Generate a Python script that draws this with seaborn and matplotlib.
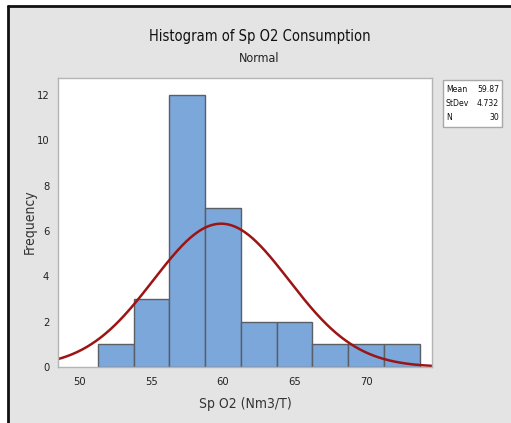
import numpy as np
import pandas as pd
import matplotlib
matplotlib.use("Agg")
import matplotlib.pyplot as plt
from matplotlib.patches import Rectangle
import seaborn as sns

# ---- data ----
bin_edges = [51.25, 53.75, 56.25, 58.75, 61.25, 63.75, 66.25, 68.75, 71.25, 73.75]
bin_counts = [1, 3, 12, 7, 2, 2, 1, 1, 1]
mean_val = 59.87
std_val = 4.732
n_val = 30
x_ticks = [50, 55, 60, 65, 70]
y_ticks = [0, 2, 4, 6, 8, 10, 12]
title = "Histogram of Sp O2 Consumption"
subtitle = "Normal"
x_label = "Sp O2 (Nm3/T)"
y_label = "Frequency"

sns.set_theme(style="white")
plt.rcParams['font.family'] = ['DejaVu Sans']
plt.rcParams['font.stretch'] = 'condensed'

W, H = 511, 423
fig = plt.figure(figsize=(W / 100, H / 100), dpi=100, facecolor="white")

def fx(px):
    return px / W

def fy(py):
    return 1 - py / H

# gray panel with black left/top border
fig.patches.append(Rectangle((fx(7.5), 0), 1, fy(6.5), transform=fig.transFigure,
                             facecolor="#e4e4e4", edgecolor="none", zorder=-5))
fig.lines.append(plt.Line2D([fx(7.5), fx(7.5)], [0, fy(6.5)], transform=fig.transFigure,
                            color="#111111", lw=2, zorder=-4))
fig.lines.append(plt.Line2D([fx(7.5), 1], [fy(6.5), fy(6.5)], transform=fig.transFigure,
                            color="#111111", lw=2, zorder=-4))

ax = fig.add_axes([fx(57.5), fy(367), fx(432) - fx(57.5), fy(78) - fy(367)])
ax.set_zorder(1)
ax.set_facecolor("white")

centers = [(bin_edges[i] + bin_edges[i + 1]) / 2 for i in range(len(bin_counts))]
df = pd.DataFrame({"x": centers, "w": bin_counts})
sns.histplot(data=df, x="x", weights="w", bins=bin_edges, ax=ax,
             color="#7ba7da", edgecolor="#5a5f66", linewidth=1.0, alpha=1.0)

xlim = (48.44, 74.6)
xs = np.linspace(xlim[0], xlim[1], 400)
binw = bin_edges[1] - bin_edges[0]
ys = n_val * binw * np.exp(-0.5 * ((xs - mean_val) / std_val) ** 2) / (std_val * np.sqrt(2 * np.pi))
sns.lineplot(x=xs, y=ys, ax=ax, color="#9c1414", lw=1.8)

ax.set_xlim(*xlim)
ax.set_ylim(0, 12.75)
ax.set_xticks(x_ticks)
ax.set_yticks(y_ticks)
ax.tick_params(axis="both", direction="out", length=3, width=0.8, color="#a0a0a0",
               labelsize=8, labelcolor="#222222", pad=3)
ax.tick_params(axis="x", pad=4)
for s in ax.spines.values():
    s.set_color("#b4b4b4")
    s.set_linewidth(1.0)
ax.set_xlabel("")
ax.set_ylabel("")

fig.text(fx(245), fy(404), x_label, ha="center", va="center", fontsize=10, color="#333333")
fig.text(fx(30), fy(222), y_label, ha="center", va="center", rotation=90, fontsize=10, color="#333333")
fig.text(fx(260), fy(37), title, ha="center", va="center", fontsize=10.5, color="#111111")
fig.text(fx(259), fy(58), subtitle, ha="center", va="center", fontsize=9, color="#222222")

# stats box
fig.patches.append(Rectangle((fx(443), fy(127)), fx(502) - fx(443), fy(80) - fy(127),
                             transform=fig.transFigure, facecolor="white",
                             edgecolor="#a8a8a8", lw=1.0, zorder=2))
rows = [("Mean", f"{mean_val:.2f}"), ("StDev", f"{std_val:.3f}"), ("N", f"{n_val}")]
for i, (k, v) in enumerate(rows):
    yy = fy(89 + i * 14.5)
    fig.text(fx(446), yy, k, ha="left", va="center", fontsize=6.2, color="#111111", zorder=3)
    fig.text(fx(499), yy, v, ha="right", va="center", fontsize=6.2, color="#111111", zorder=3)

fig.savefig("out.png", dpi=100, facecolor="white")
